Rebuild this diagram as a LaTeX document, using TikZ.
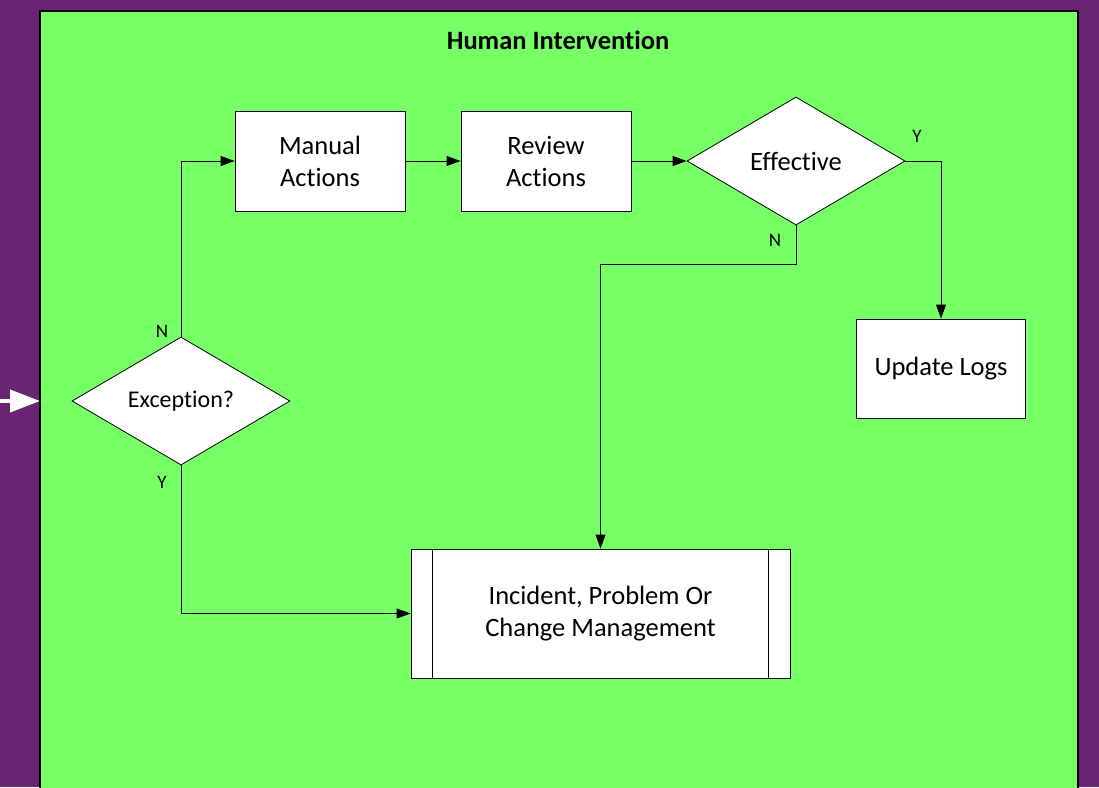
\documentclass[tikz,border=0pt]{standalone}
\usepackage{fontspec}
\setmainfont{Carlito}[Ligatures={NoCommon}]
\usetikzlibrary{shapes.geometric,arrows.meta}
\definecolor{bgpurple}{HTML}{6A2474}
\definecolor{lanegreen}{HTML}{77FF66}
\begin{document}
\begin{tikzpicture}[x=1pt,y=-1pt,
  txt/.style={font=\fontsize{26.5}{32}\selectfont},
  procbox/.style={draw=black,fill=white,line width=0.8pt,minimum width=170pt,minimum height=100pt,align=center,txt},
  decis/.style={draw=black,fill=white,line width=0.8pt,diamond,minimum width=218pt,minimum height=128pt,aspect=1.7,inner sep=0pt,align=center,txt},
  conn/.style={line width=0.8pt,-{Triangle[length=14pt,width=10pt]}},
  lbl/.style={font=\fontsize{19}{21}\selectfont}]
\useasboundingbox (0,0) rectangle (1099,787);
\fill[bgpurple] (0,0) rectangle (1099,787);
\draw[line width=1.2pt,fill=lanegreen] (40,11) rectangle (1078,800);
\node[font=\bfseries\fontsize{26.5}{30}\selectfont] (title) at (558,40) {Human Intervention};
\node[procbox] (manual) at (320,161) {Manual\\Actions};
\node[procbox] (review) at (546,161) {Review\\Actions};
\node[decis] (effective) at (796,161) {Effective};
\node[procbox,minimum width=169pt,minimum height=99pt] (logs) at (941,368.5) {Update Logs};
\node[decis,font=\fontsize{24}{30}\selectfont] (exception) at (181,401) {Exception?};
\node[procbox,minimum width=379pt,minimum height=129pt] (incident) at (600.5,613.5) {Incident, Problem Or\\Change Management};
\draw[line width=0.8pt] ([xshift=22pt]incident.north west) -- ([xshift=22pt]incident.south west);
\draw[line width=0.8pt] ([xshift=-22pt]incident.north east) -- ([xshift=-22pt]incident.south east);
\coordinate (entry) at (0,401);
\coordinate (laneleft) at (40,401);
\draw[white,line width=4pt,-{Triangle[length=30pt,width=22pt]}] (entry) -- (laneleft);
\draw[conn] (exception.north) |- (manual.west);
\draw[conn] (manual.east) -- (review.west);
\draw[conn] (review.east) -- (effective.west);
\draw[conn] (effective.east) -| (logs.north);
\coordinate (nbend) at (796,264);
\draw[conn] (effective.south) -- (nbend) -| (incident.north);
\draw[conn] (exception.south) |- (incident.west);
\node[lbl] (nlab1) at (162,331) {N};
\node[lbl] (ylab1) at (162,482) {Y};
\node[lbl] (ylab2) at (917,136) {Y};
\node[lbl] (nlab2) at (775,240) {N};
\end{tikzpicture}
\end{document}
